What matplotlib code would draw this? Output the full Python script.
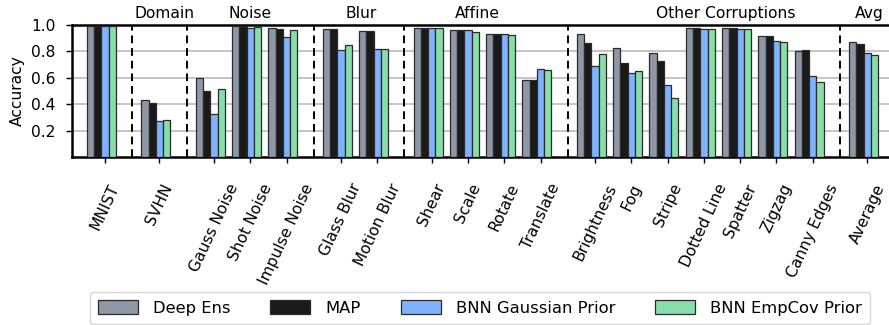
import matplotlib
matplotlib.use("Agg")
import matplotlib.pyplot as plt
import numpy as np

categories = ["MNIST", "SVHN", "Gauss Noise", "Shot Noise", "Impulse Noise",
              "Glass Blur", "Motion Blur", "Shear", "Scale", "Rotate", "Translate",
              "Brightness", "Fog", "Stripe", "Dotted Line", "Spatter", "Zigzag",
              "Canny Edges", "Average"]
positions = [0, 1.5, 3, 4, 5, 6.5, 7.5, 9, 10, 11, 12,
             13.5, 14.5, 15.5, 16.5, 17.5, 18.5, 19.5, 21]

deep_ens = [0.995, 0.429, 0.598, 0.992, 0.980, 0.972, 0.955, 0.980, 0.960, 0.934, 0.585,
            0.934, 0.826, 0.789, 0.980, 0.980, 0.919, 0.804, 0.874]
map_ = [0.995, 0.409, 0.497, 0.995, 0.972, 0.970, 0.955, 0.980, 0.960, 0.932, 0.582,
        0.864, 0.711, 0.728, 0.977, 0.980, 0.915, 0.809, 0.857]
bnn_gauss = [0.993, 0.270, 0.326, 0.975, 0.907, 0.811, 0.816, 0.977, 0.960, 0.930, 0.663,
             0.693, 0.635, 0.549, 0.967, 0.972, 0.882, 0.617, 0.789]
bnn_empcov = [0.995, 0.281, 0.515, 0.982, 0.962, 0.849, 0.819, 0.977, 0.947, 0.927, 0.658,
              0.779, 0.650, 0.447, 0.970, 0.972, 0.869, 0.567, 0.771]

series_names = ["Deep Ens", "MAP", "BNN Gaussian Prior", "BNN EmpCov Prior"]
colors = ["#8e97a6", "#1a1a1a", "#7fb3ff", "#88dda8"]

group_names = ["Domain", "Noise", "Blur", "Affine", "Other Corruptions", "Avg"]
group_label_x = [1.65, 4.0, 7.05, 10.25, 17.1, 21.05]
separators = [0.75, 2.25, 5.75, 8.25, 12.75, 20.25]

plt.rcParams['font.family'] = ['DejaVu Sans']
fs = 11.2
lfs = 11.8

fig = plt.figure(figsize=(8.89, 3.25), dpi=100)
ax = fig.add_axes([72/889, 1-157/325, 1-72/889, 132/325])

x = np.array(positions)
w = 0.2
for i, (vals, name, c) in enumerate(zip([deep_ens, map_, bnn_gauss, bnn_empcov], series_names, colors)):
    ax.bar(x + (i - 2) * w, vals, width=w, color=c, edgecolor="#2a2a2a", linewidth=0.9,
           label=name, zorder=3)

for s in separators:
    ax.axvline(s, color="black", linestyle=(0, (4, 2.5)), linewidth=1.4, zorder=4)

ax.set_ylim(0, 1.0)
ax.set_xlim(-0.91, 21.6)
ax.set_yticks([0.2, 0.4, 0.6, 0.8, 1.0])
ax.set_yticklabels(["0.2", "0.4", "0.6", "0.8", "1.0"], fontsize=fs)
ax.yaxis.grid(True, color="#c0c0c0", linewidth=1.3, zorder=0)
ax.set_axisbelow(True)
ax.set_ylabel("Accuracy", fontsize=fs, labelpad=4)

ax.set_xticks(x)
ax.set_xticklabels(categories, rotation=65, ha="center", va="top", fontsize=fs)
ax.tick_params(axis="x", length=4, width=1, pad=13.5)
ax.tick_params(axis="y", length=4, width=1, pad=8)

for sp in ["left", "bottom", "top"]:
    ax.spines[sp].set_linewidth(1.8)
ax.spines["right"].set_visible(False)

for gx, gn in zip(group_label_x, group_names):
    ax.text(gx, 1.03, gn, transform=ax.get_xaxis_transform(), ha="center", va="bottom",
            fontsize=fs)

ax.legend(loc="upper center", bbox_to_anchor=((480-72)/817, (157-292)/132), ncol=4,
          fontsize=lfs, handlelength=2.44, handleheight=0.9, handletextpad=0.91,
          columnspacing=2.45, borderpad=0.5, frameon=True, fancybox=True,
          edgecolor="#cccccc", borderaxespad=0)

fig.savefig("out.png", dpi=100)
